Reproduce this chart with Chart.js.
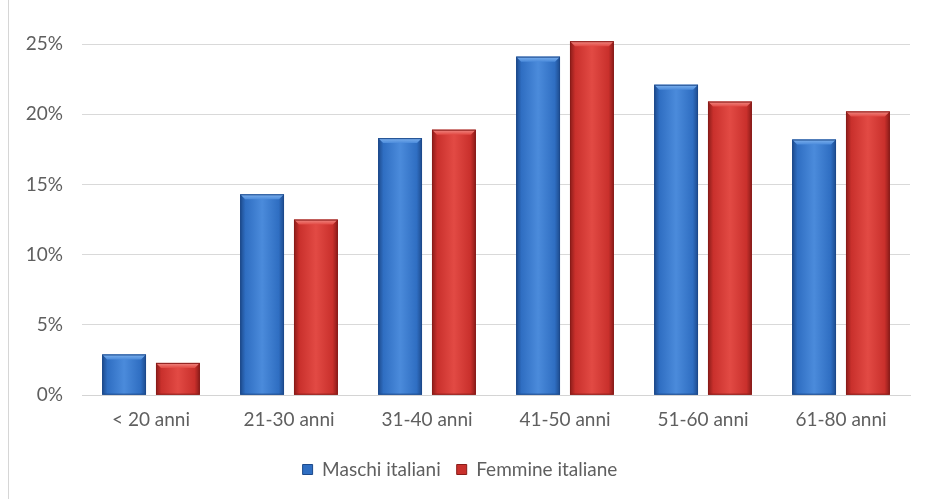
<!DOCTYPE html>
<html lang="it">
<head>
<meta charset="utf-8">
<title>Fasce di età</title>
<script src="https://cdn.jsdelivr.net/npm/chart.js@4.4.1/dist/chart.umd.min.js"></script>
<style>
  html, body { margin: 0; padding: 0; background: #fff; }
  #wrap { position: relative; width: 928px; height: 499px; }
  #frame { position: absolute; left: 8px; top: 0; width: 1px; height: 499px; background: #d6d6d6; }
</style>
</head>
<body>
<div id="wrap">
  <div id="frame"></div>
  <canvas id="eta-chart" width="928" height="499"></canvas>
</div>
<script>
// Distribuzione per fascia di età (valori in %)
const fasce = ['< 20 anni', '21-30 anni', '31-40 anni', '41-50 anni', '51-60 anni', '61-80 anni'];
const maschi = [2.9, 14.3, 18.3, 24.1, 22.1, 18.2];
const femmine = [2.3, 12.5, 18.9, 25.2, 20.9, 20.2];
const yTicks = [0, 5, 10, 15, 20, 25];

const palette = {
  maschi: { base: '#2f6ec2', light: '#4b8bdb', dark: '#1d4a8c', top: '#7fb2ee' },
  femmine: { base: '#c9302c', light: '#e24a44', dark: '#8a1c19', top: '#f08a84' }
};

const testo = { family: 'Lato, sans-serif', size: 19 };

// rilievo "3D" stile Excel: sfumatura orizzontale + smusso sulla parte alta
const bevel = {
  id: 'bevel',
  afterDatasetsDraw(chart) {
    const ctx = chart.ctx;
    chart.data.datasets.forEach((ds, i) => {
      const meta = chart.getDatasetMeta(i);
      const col = ds._pal;
      meta.data.forEach((bar) => {
        const { x, y, base, width } = bar.getProps(['x', 'y', 'base', 'width'], true);
        const l = x - width / 2, r = x + width / 2;
        ctx.save();
        const g = ctx.createLinearGradient(l, 0, r, 0);
        g.addColorStop(0, col.dark);
        g.addColorStop(0.12, col.base);
        g.addColorStop(0.5, col.light);
        g.addColorStop(0.88, col.base);
        g.addColorStop(1, col.dark);
        ctx.fillStyle = g;
        ctx.fillRect(l, y, width, base - y);
        // smusso superiore
        const b = 5;
        const tg = ctx.createLinearGradient(0, y, 0, y + b);
        tg.addColorStop(0, col.top);
        tg.addColorStop(1, col.light);
        ctx.fillStyle = tg;
        ctx.beginPath();
        ctx.moveTo(l, y);
        ctx.lineTo(r, y);
        ctx.lineTo(r - b, y + b);
        ctx.lineTo(l + b, y + b);
        ctx.closePath();
        ctx.fill();
        ctx.strokeStyle = col.dark;
        ctx.lineWidth = 1;
        ctx.strokeRect(l + 0.5, y + 0.5, width - 1, base - y - 1);
        ctx.restore();
      });
    });
  }
};

const chart = new Chart(document.getElementById('eta-chart').getContext('2d'), {
  type: 'bar',
  data: {
    labels: fasce,
    datasets: [
      { label: 'Maschi italiani', data: maschi, backgroundColor: palette.maschi.base, borderColor: palette.maschi.dark, borderWidth: 1, _pal: palette.maschi },
      { label: 'Femmine italiane', data: femmine, backgroundColor: palette.femmine.base, borderColor: palette.femmine.dark, borderWidth: 1, _pal: palette.femmine }
    ]
  },
  options: {
    responsive: false,
    animation: false,
    categoryPercentage: 0.78,
    barPercentage: 0.815,
    layout: { padding: { left: 10, right: 18, top: 44, bottom: 10 } },
    plugins: {
      tooltip: { enabled: false },
      legend: {
        position: 'bottom',
        labels: {
          boxWidth: 10,
          boxHeight: 10,
          padding: 16,
          color: '#5f5f5f',
          font: testo
        }
      }
    },
    scales: {
      x: {
        grid: { display: false, drawTicks: false },
        border: { color: '#d4d4d4' },
        ticks: { color: '#5f5f5f', padding: 13, font: testo }
      },
      y: {
        min: 0,
        max: 25,
        afterFit(scale) { scale.width = 72; },
        afterBuildTicks(scale) { scale.ticks = yTicks.map((v) => ({ value: v })); },
        grid: { color: '#d9d9d9', drawTicks: false },
        border: { display: false },
        ticks: {
          color: '#5f5f5f',
          padding: 19,
          font: testo,
          callback: (v) => v + '%'
        }
      }
    }
  },
  plugins: [bevel]
});
</script>
</body>
</html>
